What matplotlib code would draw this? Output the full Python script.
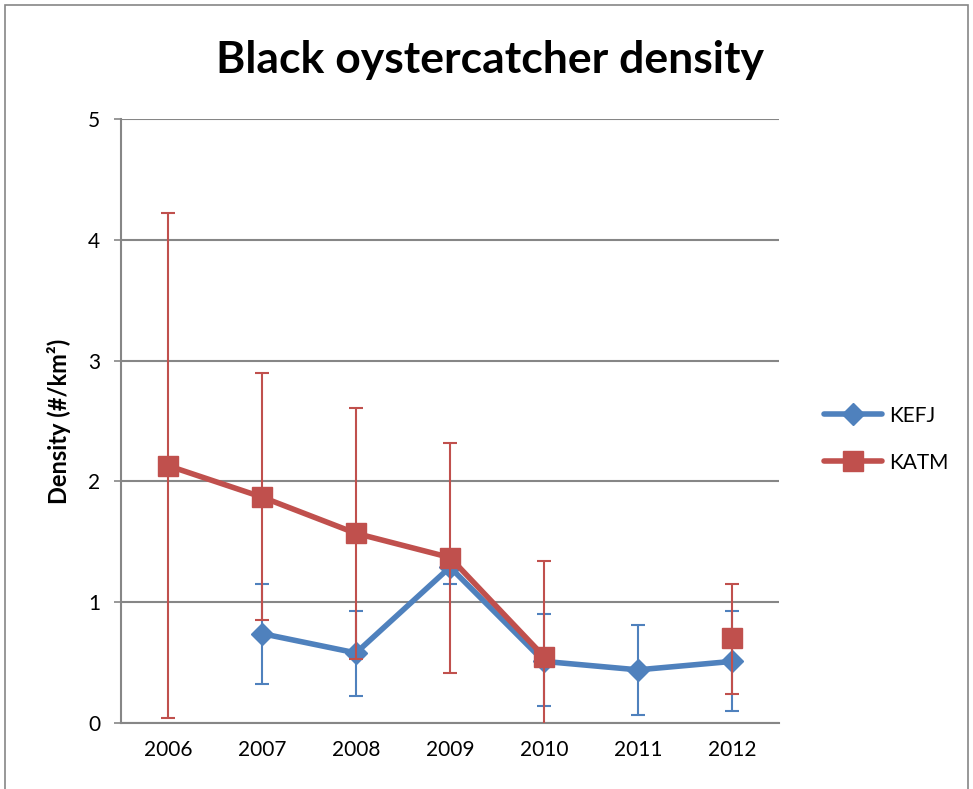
import matplotlib
matplotlib.use("Agg")
import matplotlib.pyplot as plt
from matplotlib.patches import Rectangle
import numpy as np

years = ["2006", "2007", "2008", "2009", "2010", "2011", "2012"]
kefj = [np.nan, 0.74, 0.58, 1.29, 0.51, 0.44, 0.51]
kefj_lo = [np.nan, 0.32, 0.22, 1.15, 0.14, 0.07, 0.10]
kefj_hi = [np.nan, 1.15, 0.93, 1.43, 0.90, 0.81, 0.93]
katm = [2.13, 1.87, 1.57, 1.37, 0.55, np.nan, 0.70]
katm_lo = [0.04, 0.85, 0.53, 0.41, -0.24, np.nan, 0.24]
katm_hi = [4.22, 2.90, 2.61, 2.32, 1.34, np.nan, 1.15]

plt.rcParams['font.family'] = ['Lato', 'DejaVu Sans']

blue = "#4F81BD"
red = "#C0504D"
grid = "#868686"

fig = plt.figure(figsize=(9.73, 7.89), dpi=100)
fig.patches.append(Rectangle((5/973, -0.01), 963/973, 1 - 5/789 + 0.01, transform=fig.transFigure,
                             fill=False, edgecolor=grid, linewidth=1.2))
ax = fig.add_axes([121/973, 1 - 723/789, 658/973, 604/789])

x = np.arange(len(years))

def plot_series(vals, lo, hi, color, marker, ms, label, z):
    vals = np.array(vals, dtype=float)
    lo = np.array(lo, dtype=float)
    hi = np.array(hi, dtype=float)
    m = ~np.isnan(vals)
    ax.errorbar(x[m], vals[m], yerr=[vals[m] - lo[m], hi[m] - vals[m]], fmt='none',
                ecolor=color, elinewidth=1.5, capsize=5, capthick=1.5, zorder=z)
    ax.plot(x, vals, color=color, lw=4, marker=marker, ms=ms, mfc=color, mec=color,
            label=label, zorder=z + 1, solid_capstyle='round')

plot_series(kefj, kefj_lo, kefj_hi, blue, 'D', 11, "KEFJ", 3)
plot_series(katm, katm_lo, katm_hi, red, 's', 14, "KATM", 5)

ax.set_xlim(-0.5, 6.5)
ax.set_ylim(0, 5)
ax.set_yticks([0, 1, 2, 3, 4, 5])
ax.set_xticks(x)
ax.set_xticklabels(years)
ax.tick_params(axis='both', labelsize=15, color=grid, length=5, width=1.2)
ax.tick_params(axis='x', length=0, pad=12)
ax.tick_params(axis='y', pad=10)
ax.yaxis.grid(True, color=grid, linewidth=1.5)
ax.set_axisbelow(True)
for s in ['top', 'right']:
    ax.spines[s].set_visible(False)
for s in ['left', 'bottom']:
    ax.spines[s].set_color(grid)
    ax.spines[s].set_linewidth(1.5)

ax.set_ylabel("Density (#/km²)", fontsize=17, fontweight='bold', labelpad=12)
fig.text(490/973, 1 - 60/789, "Black oystercatcher density", fontsize=32, fontweight='bold',
         ha='center', va='center')

leg = ax.legend(loc='center left', bbox_to_anchor=(1.04, 0.47), frameon=False, fontsize=15,
                handlelength=2.8, labelspacing=1.3, handletextpad=0.3)

fig.savefig("out.png", dpi=100)
